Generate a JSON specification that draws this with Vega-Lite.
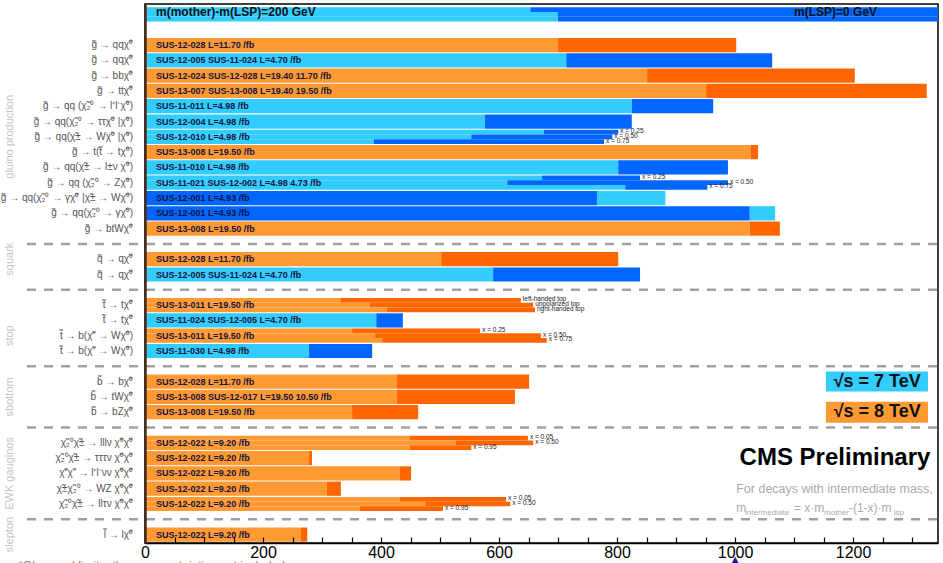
{
  "$schema": "https://vega.github.io/schema/vega-lite/v6.json",
  "width": 793,
  "height": 539,
  "autosize": {"type": "none"},
  "padding": {"left": 145, "top": 4, "right": 5, "bottom": 20},
  "background": "white",
  "config": {"view": {"stroke": "#000", "strokeWidth": 1.5}, "font": "Liberation Sans"},
  "resolve": {"axis": {"x": "independent", "y": "independent"}},
  "datasets": {
    "rows": [
      {"r": "r1", "proc": "g\u0303 \u2192 qq\u03c7\u0303\u2070", "label": "SUS-12-028 L=11.70 /fb"},
      {"r": "r2", "proc": "g\u0303 \u2192 qq\u03c7\u0303\u2070", "label": "SUS-12-005 SUS-11-024 L=4.70 /fb"},
      {"r": "r3", "proc": "g\u0303 \u2192 bb\u03c7\u0303\u2070", "label": "SUS-12-024 SUS-12-028 L=19.40 11.70 /fb"},
      {"r": "r4", "proc": "g\u0303 \u2192 tt\u03c7\u0303\u2070", "label": "SUS-13-007 SUS-13-008 L=19.40 19.50 /fb"},
      {"r": "r5", "proc": "g\u0303 \u2192 qq (\u03c7\u0303\u2082\u2070 \u2192 l\u207al\u207b\u03c7\u0303\u2070)", "label": "SUS-11-011 L=4.98 /fb"},
      {"r": "r6", "proc": "g\u0303 \u2192 qq(\u03c7\u0303\u2082\u2070 \u2192 \u03c4\u03c4\u03c7\u0303\u2070 |\u03c7\u0303\u2070)", "label": "SUS-12-004 L=4.98 /fb"},
      {"r": "r7", "proc": "g\u0303 \u2192 qq(\u03c7\u0303\u00b1 \u2192 W\u03c7\u0303\u2070 |\u03c7\u0303\u2070)", "label": "SUS-12-010 L=4.98 /fb"},
      {"r": "r8", "proc": "g\u0303 \u2192 t(t\u0303 \u2192 t\u03c7\u0303\u2070)", "label": "SUS-13-008 L=19.50 /fb"},
      {"r": "r9", "proc": "g\u0303 \u2192 qq(\u03c7\u0303\u00b1 \u2192 l\u00b1\u03bd \u03c7\u0303\u2070)", "label": "SUS-11-010 L=4.98 /fb"},
      {"r": "r10", "proc": "g\u0303 \u2192 qq (\u03c7\u0303\u2082\u2070 \u2192 Z\u03c7\u0303\u2070)", "label": "SUS-11-021 SUS-12-002 L=4.98 4.73 /fb"},
      {"r": "r11", "proc": "g\u0303 \u2192 qq(\u03c7\u0303\u2082\u2070 \u2192 \u03b3\u03c7\u0303\u2070 |\u03c7\u0303\u00b1 \u2192 W\u03c7\u0303\u2070)", "label": "SUS-12-001 L=4.93 /fb"},
      {"r": "r12", "proc": "g\u0303 \u2192 qq(\u03c7\u0303\u2082\u2070 \u2192 \u03b3\u03c7\u0303\u2070)", "label": "SUS-12-001 L=4.93 /fb"},
      {"r": "r13", "proc": "g\u0303 \u2192 btW\u03c7\u0303\u2070", "label": "SUS-13-008 L=19.50 /fb"},
      {"r": "r14", "proc": "q\u0303 \u2192 q\u03c7\u0303\u2070", "label": "SUS-12-028 L=11.70 /fb"},
      {"r": "r15", "proc": "q\u0303 \u2192 q\u03c7\u0303\u2070", "label": "SUS-12-005 SUS-11-024 L=4.70 /fb"},
      {"r": "r16", "proc": "t\u0303 \u2192 t\u03c7\u0303\u2070", "label": "SUS-13-011 L=19.50 /fb"},
      {"r": "r17", "proc": "t\u0303 \u2192 t\u03c7\u0303\u2070", "label": "SUS-11-024 SUS-12-005 L=4.70 /fb"},
      {"r": "r18", "proc": "t\u0303 \u2192 b(\u03c7\u0303\u207a \u2192 W\u03c7\u0303\u2070)", "label": "SUS-13-011 L=19.50 /fb"},
      {"r": "r19", "proc": "t\u0303 \u2192 b(\u03c7\u0303\u207a \u2192 W\u03c7\u0303\u2070)", "label": "SUS-11-030 L=4.98 /fb"},
      {"r": "r20", "proc": "b\u0303 \u2192 b\u03c7\u0303\u2070", "label": "SUS-12-028 L=11.70 /fb"},
      {"r": "r21", "proc": "b\u0303 \u2192 tW\u03c7\u0303\u2070", "label": "SUS-13-008 SUS-12-017 L=19.50 10.50 /fb"},
      {"r": "r22", "proc": "b\u0303 \u2192 bZ\u03c7\u0303\u2070", "label": "SUS-13-008 L=19.50 /fb"},
      {"r": "r23", "proc": "\u03c7\u0303\u2082\u2070\u03c7\u0303\u00b1 \u2192 lll\u03bd \u03c7\u0303\u2070\u03c7\u0303\u2070", "label": "SUS-12-022 L=9.20 /fb"},
      {"r": "r24", "proc": "\u03c7\u0303\u2082\u2070\u03c7\u0303\u00b1 \u2192 \u03c4\u03c4\u03c4\u03bd \u03c7\u0303\u2070\u03c7\u0303\u2070", "label": "SUS-12-022 L=9.20 /fb"},
      {"r": "r25", "proc": "\u03c7\u0303\u207a\u03c7\u0303\u207b \u2192 l\u207al\u207b\u03bd\u03bd \u03c7\u0303\u2070\u03c7\u0303\u2070", "label": "SUS-12-022 L=9.20 /fb"},
      {"r": "r26", "proc": "\u03c7\u0303\u00b1\u03c7\u0303\u2082\u2070 \u2192 WZ \u03c7\u0303\u2070\u03c7\u0303\u2070", "label": "SUS-12-022 L=9.20 /fb"},
      {"r": "r27", "proc": "\u03c7\u0303\u2082\u2070\u03c7\u0303\u00b1 \u2192 ll\u03c4\u03bd \u03c7\u0303\u2070\u03c7\u0303\u2070", "label": "SUS-12-022 L=9.20 /fb"},
      {"r": "r28", "proc": "l\u0303 \u2192 l\u03c7\u0303\u2070", "label": "SUS-12-022 L=9.20 /fb"}
    ],
    "segs": [
      {"r": "r1", "from": 0, "to": 700, "tone": "8L"}, {"r": "r1", "from": 700, "to": 1002, "tone": "8D"},
      {"r": "r2", "from": 0, "to": 714, "tone": "7L"}, {"r": "r2", "from": 714, "to": 1063, "tone": "7D"},
      {"r": "r3", "from": 0, "to": 851, "tone": "8L"}, {"r": "r3", "from": 851, "to": 1203, "tone": "8D"},
      {"r": "r4", "from": 0, "to": 951, "tone": "8L"}, {"r": "r4", "from": 951, "to": 1325, "tone": "8D"},
      {"r": "r5", "from": 0, "to": 825, "tone": "7L"}, {"r": "r5", "from": 825, "to": 963, "tone": "7D"},
      {"r": "r6", "from": 0, "to": 576, "tone": "7L"}, {"r": "r6", "from": 576, "to": 825, "tone": "7D"},
      {"r": "r8", "from": 0, "to": 1027, "tone": "8L"}, {"r": "r8", "from": 1027, "to": 1039, "tone": "8D"},
      {"r": "r9", "from": 0, "to": 802, "tone": "7L"}, {"r": "r9", "from": 802, "to": 988, "tone": "7D"},
      {"r": "r11", "from": 0, "to": 766, "tone": "7D"}, {"r": "r11", "from": 766, "to": 882, "tone": "7L"},
      {"r": "r12", "from": 0, "to": 1025, "tone": "7D"}, {"r": "r12", "from": 1025, "to": 1068, "tone": "7L"},
      {"r": "r13", "from": 0, "to": 1025, "tone": "8L"}, {"r": "r13", "from": 1025, "to": 1076, "tone": "8D"},
      {"r": "r14", "from": 0, "to": 502, "tone": "8L"}, {"r": "r14", "from": 502, "to": 802, "tone": "8D"},
      {"r": "r15", "from": 0, "to": 590, "tone": "7L"}, {"r": "r15", "from": 590, "to": 839, "tone": "7D"},
      {"r": "r17", "from": 0, "to": 392, "tone": "7L"}, {"r": "r17", "from": 392, "to": 437, "tone": "7D"},
      {"r": "r19", "from": 0, "to": 278, "tone": "7L"}, {"r": "r19", "from": 278, "to": 385, "tone": "7D"},
      {"r": "r20", "from": 0, "to": 427, "tone": "8L"}, {"r": "r20", "from": 427, "to": 651, "tone": "8D"},
      {"r": "r21", "from": 0, "to": 427, "tone": "8L"}, {"r": "r21", "from": 427, "to": 627, "tone": "8D"},
      {"r": "r22", "from": 0, "to": 351, "tone": "8L"}, {"r": "r22", "from": 351, "to": 463, "tone": "8D"},
      {"r": "r24", "from": 0, "to": 278, "tone": "8L"}, {"r": "r24", "from": 278, "to": 283, "tone": "8D"},
      {"r": "r25", "from": 0, "to": 432, "tone": "8L"}, {"r": "r25", "from": 432, "to": 451, "tone": "8D"},
      {"r": "r26", "from": 0, "to": 308, "tone": "8L"}, {"r": "r26", "from": 308, "to": 332, "tone": "8D"},
      {"r": "r28", "from": 0, "to": 264, "tone": "8L"}, {"r": "r28", "from": 264, "to": 275, "tone": "8D"}
    ],
    "subs": [
      {"r": "hdr", "part": "a", "from": 0, "to": 653, "tone": "7L"}, {"r": "hdr", "part": "a", "from": 653, "to": 1344, "tone": "7D"},
      {"r": "hdr", "part": "b", "from": 0, "to": 700, "tone": "7L"}, {"r": "hdr", "part": "b", "from": 700, "to": 1344, "tone": "7D"},
      {"r": "hdr", "part": "c", "from": 0, "to": 700, "tone": "7L"}, {"r": "hdr", "part": "c", "from": 700, "to": 1344, "tone": "7D"},
      {"r": "r7", "part": "a", "from": 0, "to": 676, "tone": "7L"}, {"r": "r7", "part": "a", "from": 676, "to": 802, "tone": "7D", "note": "x = 0.25"},
      {"r": "r7", "part": "b", "from": 0, "to": 553, "tone": "7L"}, {"r": "r7", "part": "b", "from": 553, "to": 792, "tone": "7D", "note": "x = 0.50"},
      {"r": "r7", "part": "c", "from": 0, "to": 388, "tone": "7L"}, {"r": "r7", "part": "c", "from": 388, "to": 778, "tone": "7D", "note": "x = 0.75"},
      {"r": "r10", "part": "a", "from": 0, "to": 673, "tone": "7L"}, {"r": "r10", "part": "a", "from": 673, "to": 839, "tone": "7D", "note": "x = 0.25"},
      {"r": "r10", "part": "b", "from": 0, "to": 614, "tone": "7L"}, {"r": "r10", "part": "b", "from": 614, "to": 988, "tone": "7D", "note": "x = 0.50"},
      {"r": "r10", "part": "c", "from": 0, "to": 814, "tone": "7L"}, {"r": "r10", "part": "c", "from": 814, "to": 953, "tone": "7D", "note": "x = 0.75"},
      {"r": "r16", "part": "a", "from": 0, "to": 331, "tone": "8L"}, {"r": "r16", "part": "a", "from": 331, "to": 637, "tone": "8D", "note": "left-handed top"},
      {"r": "r16", "part": "b", "from": 0, "to": 381, "tone": "8L"}, {"r": "r16", "part": "b", "from": 381, "to": 658, "tone": "8D", "note": "unpolarized top"},
      {"r": "r16", "part": "c", "from": 0, "to": 410, "tone": "8L"}, {"r": "r16", "part": "c", "from": 410, "to": 661, "tone": "8D", "note": "right-handed top"},
      {"r": "r18", "part": "a", "from": 0, "to": 351, "tone": "8L"}, {"r": "r18", "part": "a", "from": 351, "to": 568, "tone": "8D", "note": "x = 0.25"},
      {"r": "r18", "part": "b", "from": 0, "to": 390, "tone": "8L"}, {"r": "r18", "part": "b", "from": 390, "to": 671, "tone": "8D", "note": "x = 0.50"},
      {"r": "r18", "part": "c", "from": 0, "to": 402, "tone": "8L"}, {"r": "r18", "part": "c", "from": 402, "to": 681, "tone": "8D", "note": "x = 0.75"},
      {"r": "r23", "part": "a", "from": 0, "to": 449, "tone": "8L"}, {"r": "r23", "part": "a", "from": 449, "to": 649, "tone": "8D", "note": "x = 0.05"},
      {"r": "r23", "part": "b", "from": 0, "to": 527, "tone": "8L"}, {"r": "r23", "part": "b", "from": 527, "to": 658, "tone": "8D", "note": "x = 0.50"},
      {"r": "r23", "part": "c", "from": 0, "to": 449, "tone": "8L"}, {"r": "r23", "part": "c", "from": 449, "to": 553, "tone": "8D", "note": "x = 0.95"},
      {"r": "r27", "part": "a", "from": 0, "to": 432, "tone": "8L"}, {"r": "r27", "part": "a", "from": 432, "to": 612, "tone": "8D", "note": "x = 0.05"},
      {"r": "r27", "part": "b", "from": 0, "to": 475, "tone": "8L"}, {"r": "r27", "part": "b", "from": 475, "to": 619, "tone": "8D", "note": "x = 0.50"},
      {"r": "r27", "part": "c", "from": 0, "to": 364, "tone": "8L"}, {"r": "r27", "part": "c", "from": 364, "to": 505, "tone": "8D", "note": "x = 0.95"}
    ],
    "seps": [{"r": "sep1"}, {"r": "sep2"}, {"r": "sep3"}, {"r": "sep4"}, {"r": "sep5"}],
    "cats": [
      {"cat": "gluino production", "r": "r7"},
      {"cat": "squark", "r": "r14"},
      {"cat": "stop", "r": "r18"},
      {"cat": "sbottom", "r": "r21"},
      {"cat": "EWK gauginos", "r": "r25"},
      {"cat": "slepton", "r": "r28"}
    ]
  },
  "layer": [
    {
      "data": {"name": "segs"},
      "mark": {"type": "bar"},
      "encoding": {
        "x": {"field": "from", "type": "quantitative",
          "scale": {"domain": [0, 1344], "nice": false, "zero": false},
          "axis": {"title": null, "grid": false, "orient": "bottom", "values": [0,50,100,150,200,250,300,350,400,450,500,550,600,650,700,750,800,850,900,950,1000,1050,1100,1150,1200,1250,1300],
            "format": "d",
            "labelExpr": "datum.value % 200 === 0 ? datum.label : ''",
            "tickSize": -6,
            "tickColor": "#000", "tickWidth": 1.2, "domainColor": "#000", "domainWidth": 1.5,
            "labelFontSize": 16, "labelColor": "#000", "labelPadding": 7, "labelFlush": false, "labelOverlap": false, "zindex": 1}},
        "x2": {"field": "to"},
        "y": {"field": "r", "type": "nominal",
          "scale": {"type": "band",
            "domain": ["hdr","g0","r1","r2","r3","r4","r5","r6","r7","r8","r9","r10","r11","r12","r13","sep1","r14","r15","sep2","r16","r17","r18","r19","sep3","r20","r21","r22","sep4","r23","r24","r25","r26","r27","sep5","r28"],
            "paddingInner": 0.07, "paddingOuter": 0.15, "align": 0.72},
          "axis": {"title": null, "orient": "left", "labels": false, "ticks": false, "grid": false, "domainColor": "#4a2c1c", "domainWidth": 2.5, "zindex": 1}},
        "color": {"field": "tone", "type": "nominal",
          "scale": {"domain": ["7L", "7D", "8L", "8D"], "range": ["#33ccff", "#0066ff", "#ff9933", "#ff6600"]},
          "legend": null}
      }
    },
    {
      "data": {"name": "subs"},
      "mark": {"type": "bar"},
      "encoding": {
        "x": {"field": "from", "type": "quantitative", "axis": null},
        "x2": {"field": "to"},
        "y": {"field": "r", "type": "nominal", "axis": null},
        "yOffset": {"field": "part", "type": "nominal", "scale": {"domain": ["a", "b", "c"], "paddingInner": 0, "paddingOuter": 0}},
        "color": {"field": "tone", "type": "nominal", "legend": null}
      }
    },
    {
      "data": {"name": "subs"},
      "transform": [{"filter": "isValid(datum.note)"}],
      "mark": {"type": "text", "align": "left", "baseline": "middle", "dx": 2, "dy": -1, "fontSize": 6.5, "color": "#222"},
      "encoding": {
        "x": {"field": "to", "type": "quantitative", "axis": null},
        "y": {"field": "r", "type": "nominal", "axis": null},
        "yOffset": {"field": "part", "type": "nominal"},
        "text": {"field": "note"}
      }
    },
    {
      "data": {"name": "seps"},
      "mark": {"type": "rule", "color": "#a0a0a0", "strokeWidth": 2.5, "strokeDash": [9, 8]},
      "encoding": {
        "x": {"datum": -200, "type": "quantitative", "axis": null},
        "x2": {"datum": 1344},
        "y": {"field": "r", "type": "nominal", "axis": null}
      }
    },
    {
      "data": {"name": "rows"},
      "mark": {"type": "text", "align": "left", "baseline": "middle", "dx": 11, "fontSize": 9, "fontWeight": "bold", "color": "#14143c"},
      "encoding": {
        "x": {"datum": 0, "type": "quantitative", "axis": null},
        "y": {"field": "r", "type": "nominal", "axis": null},
        "text": {"field": "label"}
      }
    },
    {
      "data": {"name": "rows"},
      "mark": {"type": "text", "align": "right", "baseline": "middle", "dx": -12, "fontSize": 10, "color": "#555"},
      "encoding": {
        "x": {"datum": 0, "type": "quantitative", "axis": null},
        "y": {"field": "r", "type": "nominal", "axis": null},
        "text": {"field": "proc"}
      }
    },
    {
      "data": {"name": "cats"},
      "mark": {"type": "text", "align": "center", "baseline": "middle", "angle": 270, "fontSize": 11, "color": "#c4c4c4"},
      "encoding": {
        "x": {"datum": -228, "type": "quantitative", "axis": null},
        "y": {"field": "r", "type": "nominal", "axis": null},
        "text": {"field": "cat"}
      }
    },
    {
      "data": {"values": [{"t": "m(mother)-m(LSP)=200 GeV"}]},
      "mark": {"type": "text", "align": "left", "baseline": "middle", "dx": 11, "dy": -2, "fontSize": 12, "fontWeight": "bold", "color": "#111"},
      "encoding": {
        "x": {"datum": 0, "type": "quantitative", "axis": null},
        "y": {"datum": "hdr", "type": "nominal", "axis": null},
        "text": {"field": "t"}
      }
    },
    {
      "data": {"values": [{"t": "m(LSP)=0 GeV"}]},
      "mark": {"type": "text", "align": "left", "baseline": "middle", "dy": -2, "fontSize": 12, "fontWeight": "bold", "color": "#111"},
      "encoding": {
        "x": {"datum": 1100, "type": "quantitative", "axis": null},
        "y": {"datum": "hdr", "type": "nominal", "axis": null},
        "text": {"field": "t"}
      }
    },
    {
      "data": {"values": [{"t": "\u221as = 7 TeV"}]},
      "mark": {"type": "bar", "color": "#33ccff", "height": 20},
      "encoding": {
        "x": {"datum": 1154, "type": "quantitative", "axis": null},
        "x2": {"datum": 1327},
        "y": {"datum": "r20", "type": "nominal", "axis": null}
      }
    },
    {
      "data": {"values": [{"t": "\u221as = 8 TeV"}]},
      "mark": {"type": "bar", "color": "#ff9933", "height": 21},
      "encoding": {
        "x": {"datum": 1154, "type": "quantitative", "axis": null},
        "x2": {"datum": 1327},
        "y": {"datum": "r22", "type": "nominal", "axis": null}
      }
    },
    {
      "data": {"values": [{"t": "\u221as = 7 TeV"}]},
      "mark": {"type": "text", "align": "center", "baseline": "middle", "fontSize": 18, "fontWeight": "bold", "color": "#111"},
      "encoding": {
        "x": {"datum": 1241, "type": "quantitative", "axis": null},
        "y": {"datum": "r20", "type": "nominal", "axis": null},
        "text": {"field": "t"}
      }
    },
    {
      "data": {"values": [{"t": "\u221as = 8 TeV"}]},
      "mark": {"type": "text", "align": "center", "baseline": "middle", "fontSize": 18, "fontWeight": "bold", "color": "#111"},
      "encoding": {
        "x": {"datum": 1241, "type": "quantitative", "axis": null},
        "y": {"datum": "r22", "type": "nominal", "axis": null},
        "text": {"field": "t"}
      }
    },
    {
      "data": {"values": [{"t": "CMS Preliminary"}]},
      "mark": {"type": "text", "align": "right", "baseline": "middle", "fontSize": 24, "fontWeight": "bold", "color": "#000"},
      "encoding": {
        "x": {"datum": 1331, "type": "quantitative", "axis": null},
        "y": {"datum": "r24", "type": "nominal", "axis": null},
        "text": {"field": "t"}
      }
    },
    {
      "data": {"values": [{"t": "For decays with intermediate mass,"}]},
      "mark": {"type": "text", "align": "left", "baseline": "middle", "fontSize": 12.5, "color": "#aaa"},
      "encoding": {
        "x": {"datum": 1002, "type": "quantitative", "axis": null},
        "y": {"datum": "r26", "type": "nominal", "axis": null},
        "text": {"field": "t"}
      }
    },
    {
      "data": {"values": [{"t": "m"}]},
      "mark": {"type": "text", "align": "left", "baseline": "alphabetic", "dy": 8, "fontSize": 12, "color": "#aaa"},
      "encoding": {"x": {"datum": 1002, "type": "quantitative", "axis": null}, "y": {"datum": "r27", "type": "nominal", "axis": null}, "text": {"field": "t"}}
    },
    {
      "data": {"values": [{"t": "intermediate"}]},
      "mark": {"type": "text", "align": "left", "baseline": "alphabetic", "dy": 11, "fontSize": 8, "color": "#aaa"},
      "encoding": {"x": {"datum": 1017, "type": "quantitative", "axis": null}, "y": {"datum": "r27", "type": "nominal", "axis": null}, "text": {"field": "t"}}
    },
    {
      "data": {"values": [{"t": "= x\u00b7m"}]},
      "mark": {"type": "text", "align": "left", "baseline": "alphabetic", "dy": 8, "fontSize": 12, "color": "#aaa"},
      "encoding": {"x": {"datum": 1100, "type": "quantitative", "axis": null}, "y": {"datum": "r27", "type": "nominal", "axis": null}, "text": {"field": "t"}}
    },
    {
      "data": {"values": [{"t": "mother"}]},
      "mark": {"type": "text", "align": "left", "baseline": "alphabetic", "dy": 11, "fontSize": 8, "color": "#aaa"},
      "encoding": {"x": {"datum": 1151, "type": "quantitative", "axis": null}, "y": {"datum": "r27", "type": "nominal", "axis": null}, "text": {"field": "t"}}
    },
    {
      "data": {"values": [{"t": "-(1-x)\u00b7m"}]},
      "mark": {"type": "text", "align": "left", "baseline": "alphabetic", "dy": 8, "fontSize": 12, "color": "#aaa"},
      "encoding": {"x": {"datum": 1193, "type": "quantitative", "axis": null}, "y": {"datum": "r27", "type": "nominal", "axis": null}, "text": {"field": "t"}}
    },
    {
      "data": {"values": [{"t": "lsp"}]},
      "mark": {"type": "text", "align": "left", "baseline": "alphabetic", "dy": 11, "fontSize": 8, "color": "#aaa"},
      "encoding": {"x": {"datum": 1269, "type": "quantitative", "axis": null}, "y": {"datum": "r27", "type": "nominal", "axis": null}, "text": {"field": "t"}}
    },
    {
      "data": {"values": [{"t": "*Observed limits, theory uncertainties not included"}]},
      "mark": {"type": "text", "align": "left", "baseline": "top", "dy": 26, "fontSize": 12, "color": "#888"},
      "encoding": {"x": {"datum": -215, "type": "quantitative", "axis": null}, "y": {"datum": "r28", "type": "nominal", "axis": null}, "text": {"field": "t"}}
    },
    {
      "data": {"values": [{"t": "\u25b2"}]},
      "mark": {"type": "text", "align": "center", "baseline": "top", "dy": 15, "fontSize": 30, "color": "#1a1aa8"},
      "encoding": {"x": {"datum": 1000, "type": "quantitative", "axis": null}, "y": {"datum": "r28", "type": "nominal", "axis": null}, "text": {"field": "t"}}
    }
  ]
}
